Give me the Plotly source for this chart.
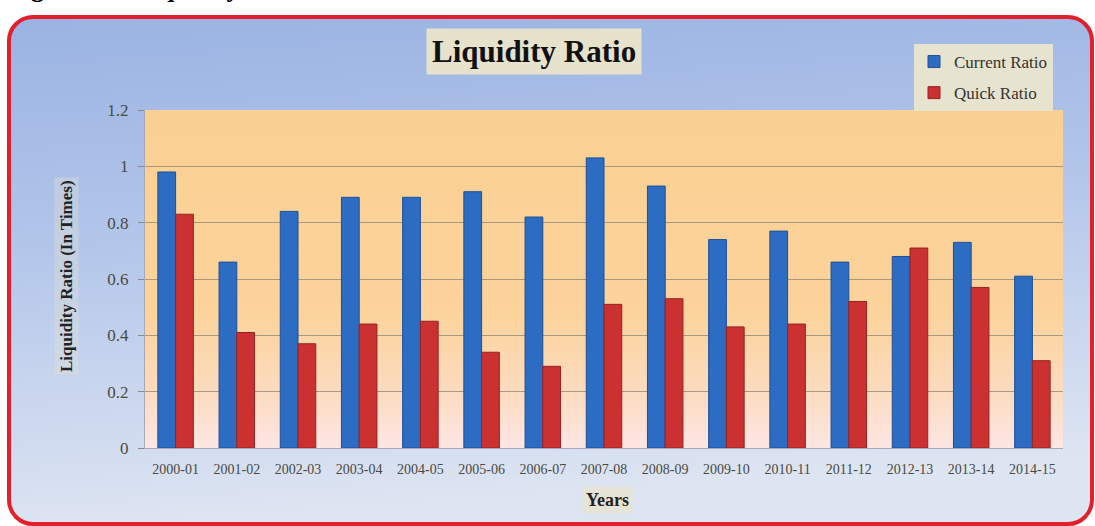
import base64
import plotly.graph_objects as go

years = ["2000-01", "2001-02", "2002-03", "2003-04", "2004-05", "2005-06", "2006-07",
         "2007-08", "2008-09", "2009-10", "2010-11", "2011-12", "2012-13", "2013-14", "2014-15"]
current_ratio = [0.98, 0.66, 0.84, 0.89, 0.89, 0.91, 0.82, 1.03, 0.93, 0.74, 0.77, 0.66, 0.68, 0.73, 0.61]
quick_ratio = [0.83, 0.41, 0.37, 0.44, 0.45, 0.34, 0.29, 0.51, 0.53, 0.43, 0.44, 0.52, 0.71, 0.57, 0.31]
y_ticks = [0, 0.2, 0.4, 0.6, 0.8, 1, 1.2]

W, H = 1095, 526
L, R, T, B = 145, 32, 110, 78
PW, PH = W - L - R, H - T - B


def px(x):
    return (x - L) / PW


def py(y):
    return (H - B - y) / PH


def svg_uri(svg):
    return "data:image/svg+xml;base64," + base64.b64encode(svg.encode()).decode()


bg_svg = f'''<svg xmlns="http://www.w3.org/2000/svg" width="{W}" height="{H}" viewBox="0 0 {W} {H}" preserveAspectRatio="none">
<defs><linearGradient id="g" x1="0" y1="0" x2="0.15" y2="1">
<stop offset="0" stop-color="#9AB3E2"/>
<stop offset="0.45" stop-color="#B3C6EA"/>
<stop offset="1" stop-color="#DEE5F2"/>
</linearGradient></defs>
<rect x="9" y="17" width="1083" height="507" rx="24" ry="24" fill="url(#g)" stroke="#E21F2B" stroke-width="4"/>
</svg>'''

plot_svg = f'''<svg xmlns="http://www.w3.org/2000/svg" width="{PW}" height="{PH}" viewBox="0 0 {PW} {PH}" preserveAspectRatio="none">
<defs><linearGradient id="p" x1="0" y1="0" x2="0" y2="1">
<stop offset="0" stop-color="#FAD092"/>
<stop offset="0.6" stop-color="#FBD39B"/>
<stop offset="0.85" stop-color="#FCDCC2"/>
<stop offset="1" stop-color="#FDE6E4"/>
</linearGradient></defs>
<rect x="0" y="0" width="{PW}" height="{PH}" fill="url(#p)"/>
</svg>'''

fig = go.Figure()
fig.add_trace(go.Bar(x=years, y=current_ratio, name="Current Ratio", legendgroup="a",
                     marker=dict(color="#2C6CC3", line=dict(color="#1F4F96", width=1))))
fig.add_trace(go.Bar(x=years, y=quick_ratio, name="Quick Ratio", legendgroup="b",
                     marker=dict(color="#CB3131", line=dict(color="#962222", width=1))))

serif = "Liberation Serif"

fig.update_layout(
    width=W, height=H,
    margin=dict(l=L, r=R, t=T, b=B),
    paper_bgcolor="white",
    plot_bgcolor="rgba(0,0,0,0)",
    barmode="group",
    bargap=0.42,
    bargroupgap=0,
    font=dict(family=serif, color="#333333"),
    showlegend=True,
    legend=dict(x=px(914), y=py(44), xanchor="left", yanchor="top",
                bgcolor="rgba(236,230,205,0.92)", borderwidth=0,
                font=dict(family=serif, size=17, color="#333333"),
                traceorder="grouped", tracegroupgap=6, itemwidth=30),
    images=[
        dict(source=svg_uri(bg_svg), xref="paper", yref="paper", x=px(0), y=py(0),
             sizex=W / PW, sizey=H / PH, xanchor="left", yanchor="top",
             sizing="stretch", layer="below"),
        dict(source=svg_uri(plot_svg), xref="paper", yref="paper", x=0, y=1,
             sizex=1, sizey=1, xanchor="left", yanchor="top",
             sizing="stretch", layer="below"),
    ],
    xaxis=dict(type="category", showgrid=False, showline=True, linecolor="#A8A8B8",
               linewidth=1, ticks="", ticklabelstandoff=8,
               tickfont=dict(family=serif, size=14, color="#4A4A40")),
    yaxis=dict(range=[0, 1.2], tickvals=y_ticks, showgrid=True, gridcolor="#A89A80",
               gridwidth=1, showline=True, linecolor="#A8A8B8", linewidth=1,
               ticks="outside", ticklen=6, tickcolor="#8A8A8A", ticklabelstandoff=6,
               zeroline=False,
               tickfont=dict(family=serif, size=17, color="#4A4A40")),
    annotations=[
        dict(text="<b>Liquidity Ratio</b>", xref="paper", yref="paper",
             x=px(534), y=py(51), xanchor="center", yanchor="middle", showarrow=False,
             font=dict(family=serif, size=31, color="#111111"),
             bgcolor="#E6E2CC", borderpad=5),
        dict(text="<b>Liquidity Ratio (In Times)</b>", xref="paper", yref="paper",
             x=px(66), y=py(276), xanchor="center", yanchor="middle", showarrow=False,
             textangle=-90, font=dict(family=serif, size=17, color="#222222"),
             bgcolor="rgba(230,226,205,0.35)", borderpad=2),
        dict(text="<b>Years</b>", xref="paper", yref="paper",
             x=px(607), y=py(500), xanchor="center", yanchor="middle", showarrow=False,
             font=dict(family=serif, size=18, color="#222222"),
             bgcolor="rgba(232,228,210,0.85)", borderpad=3),
        dict(text="<b>Figure 4.2: Liquidity Ratio</b>", xref="paper", yref="paper",
             x=px(6), y=py(5.5), xanchor="left", yanchor="bottom", showarrow=False,
             font=dict(family=serif, size=26, color="#000000")),
    ],
)

fig.write_html("out.html")
